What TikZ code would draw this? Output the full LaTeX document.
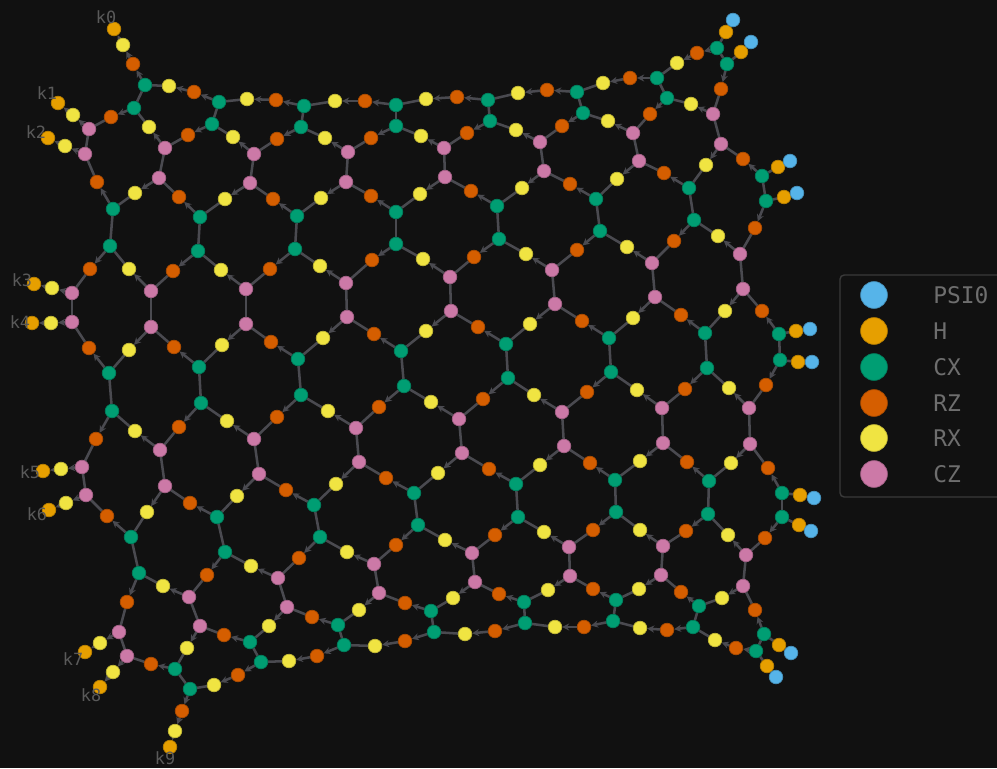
\documentclass[tikz,border=0pt]{standalone}
\usepackage{fontspec}
\setmonofont{DejaVu Sans Mono}
\usepackage{xcolor}
\usepackage{tikz}
\usetikzlibrary{positioning, arrows.meta, calc}
\definecolor{bgcol}{HTML}{111111}
\definecolor{edgecol}{HTML}{4A4A50}
\definecolor{labcol}{HTML}{5A5A5A}
\definecolor{legcol}{HTML}{6E6E6E}
\definecolor{framecol}{HTML}{3A3A3A}
\definecolor{psicol}{HTML}{56B4E9}
\definecolor{hcol}{HTML}{E69F00}
\definecolor{cxcol}{HTML}{009E73}
\definecolor{rzcol}{HTML}{D55E00}
\definecolor{rxcol}{HTML}{F0E442}
\definecolor{czcol}{HTML}{CC79A7}
\pgfdeclarelayer{bglayer}
\pgfdeclarelayer{edgelayer}
\pgfsetlayers{bglayer,edgelayer,main}
\tikzset{
    gate/.style={
        circle,
        fill=#1,
        draw=#1!80!black,
        line width=0.5pt,
        minimum size=0.34cm,
        inner sep=0pt
    },
    psinode/.style={gate=psicol},
    hnode/.style={gate=hcol},
    cxnode/.style={gate=cxcol},
    rznode/.style={gate=rzcol},
    rxnode/.style={gate=rxcol},
    cznode/.style={gate=czcol},
    wire/.style={
        draw=edgecol,
        line width=1.8pt
    },
    flow/.style={
        wire,
        -{Stealth[length=5pt,width=5pt]}
    },
    klabel/.style={
        text=labcol,
        font=\ttfamily\fontsize{12}{14}\selectfont,
        inner sep=0pt
    },
    legenddot/.style={
        gate=#1,
        minimum size=0.67cm
    },
    legendtext/.style={
        text=legcol,
        anchor=west,
        inner sep=0pt,
        font=\ttfamily\fontsize{16.3}{18}\selectfont
    },
    legendframe/.style={
        draw=framecol,
        line width=1pt,
        rounded corners=3pt
    }
}

\begin{document}
\begin{tikzpicture}[x=0.025cm, y=-0.025cm]
    \useasboundingbox (0,0) rectangle (997,768);
    \clip (0,0) rectangle (997,768);
    \begin{pgfonlayer}{bglayer}
        \fill[bgcol] (0,0) rectangle (997,768);
    \end{pgfonlayer}

    % CX gates
    \foreach \n/\x/\y in {
        xa1/145/85, xa2/219/102, xa3/304/106, xa4/396/105, xa5/488/100, xa6/577/92, xa7/657/78, xa8/717/48,
        xb1/134/108, xb2/212/124, xb3/301/127, xb4/396/126, xb5/490/121, xb6/583/113, xb7/667/98, xb8/727/64,
        xe0/113/209, xe1/200/217, xe2/297/216, xe3/396/212, xe4/497/206, xe5/596/199, xe6/689/188, xe7/762/176,
        xf0/110/246, xf1/198/251, xf2/295/249, xf3/396/244, xf4/499/239, xf5/600/231, xf6/694/220, xf7/766/201,
        xi0/109/373, xi1/199/367, xi2/298/359, xi3/401/351, xi4/506/344, xi5/609/338, xi6/705/333, xi7/779/334,
        xj0/112/411, xj1/201/403, xj2/301/395, xj3/404/386, xj4/508/378, xj5/611/372, xj6/707/368, xj7/780/360,
        xm0/131/537, xm1/217/517, xm2/314/505, xm3/414/493, xm4/516/484, xm5/615/480, xm6/709/481, xm7/782/493,
        xn0/139/573, xn1/225/552, xn2/320/537, xn3/418/525, xn4/518/517, xn5/616/512, xn6/708/514, xn7/782/517,
        xq0/175/669, xq1/250/642, xq2/338/625, xq3/431/611, xq4/524/602, xq5/616/600, xq6/699/606, xq7/764/634,
        xr0/190/689, xr1/261/662, xr2/344/645, xr3/434/632, xr4/525/623, xr5/613/621, xr6/693/627, xr7/756/651}
        \node[cxnode] (\n) at (\x,\y) {};

    % CZ gates
    \foreach \n/\x/\y in {
        zc0/89/129, zc1/165/148, zc2/254/154, zc3/348/152, zc4/444/148, zc5/540/142, zc6/633/133, zc7/713/114,
        zd0/85/154, zd1/159/178, zd2/250/183, zd3/346/182, zd4/445/177, zd5/544/171, zd6/639/161, zd7/721/144,
        zg0/72/293, zg1/151/291, zg2/246/289, zg3/346/283, zg4/450/277, zg5/552/270, zg6/652/263, zg7/740/254,
        zh0/72/322, zh1/151/327, zh2/246/324, zh3/347/317, zh4/451/311, zh5/555/304, zh6/655/297, zh7/743/289,
        zk0/82/467, zk1/160/450, zk2/254/439, zk3/356/428, zk4/459/419, zk5/562/412, zk6/662/408, zk7/749/408,
        zl0/86/495, zl1/165/486, zl2/259/474, zl3/359/462, zl4/462/453, zl5/564/446, zl6/663/443, zl7/750/444,
        zo0/119/632, zo1/189/597, zo2/278/578, zo3/374/564, zo4/472/553, zo5/569/547, zo6/663/546, zo7/746/555,
        zp0/127/656, zp1/200/626, zp2/287/607, zp3/379/593, zp4/475/582, zp5/570/576, zp6/661/575, zp7/743/586}
        \node[cznode] (\n) at (\x,\y) {};

    % RZ gates
    \foreach \n/\x/\y in {
        rzAk/133/64, rzA1/194/92, rzA2/276/100, rzA3/365/101, rzA4/457/97, rzA5/547/90, rzA6/630/78, rzA7/697/53,
        rzB1/111/117, rzB2/188/135, rzB3/277/139, rzB4/371/138, rzB5/467/133, rzB6/562/126, rzB7/650/114, rzB8/721/89,
        rzD0/97/182, rzD1/179/197, rzD2/273/199, rzD3/371/196, rzD4/471/191, rzD5/570/184, rzD6/664/173, rzD7/743/159,
        rzF0/90/269, rzF1/173/271, rzF2/270/269, rzF3/372/260, rzF4/474/257, rzF5/577/250, rzF6/674/241, rzF7/755/228,
        rzH0/89/348, rzH1/174/347, rzH2/271/342, rzH3/374/334, rzH4/478/327, rzH5/582/321, rzH6/681/315, rzH7/762/311,
        rzJ0/96/439, rzJ1/179/427, rzJ2/277/417, rzJ3/379/407, rzJ4/483/399, rzJ5/587/392, rzJ6/685/389, rzJ7/766/385,
        rzL0/107/516, rzL1/190/503, rzL2/286/490, rzL3/386/478, rzL4/489/469, rzL5/590/463, rzL6/687/462, rzL7/768/468,
        rzN0/127/602, rzN1/207/575, rzN2/299/558, rzN3/396/545, rzN4/495/535, rzN5/593/530, rzN6/686/531, rzN7/765/538,
        rzP0/151/664, rzP1/224/635, rzP2/312/617, rzP3/405/603, rzP4/499/594, rzP5/593/589, rzP6/681/592, rzP7/755/610,
        rzRk/182/711, rzR0/238/675, rzR1/317/656, rzR2/405/641, rzR3/495/631, rzR4/584/627, rzR5/667/630, rzR6/736/648}
        \node[rznode] (\n) at (\x,\y) {};

    % RX gates
    \foreach \n/\x/\y in {
        rxAk/123/45, rxA1/169/86, rxA2/247/99, rxA3/335/101, rxA4/426/99, rxA5/518/93, rxA6/603/83, rxA7/677/63,
        rxC0/73/115, rxB1/149/127, rxB2/233/137, rxB3/325/138, rxB4/421/136, rxB5/516/130, rxB6/608/121, rxB7/691/104,
        rxD0/65/146, rxD1/135/193, rxD2/225/199, rxD3/321/198, rxD4/420/194, rxD5/522/188, rxD6/617/179, rxD7/706/165,
        rxG0/52/288, rxF0/129/269, rxF1/221/270, rxF2/320/266, rxF3/423/259, rxF4/526/254, rxF5/627/247, rxF6/718/236,
        rxH0/51/323, rxH1/129/350, rxH2/222/345, rxH3/323/338, rxH4/426/331, rxH5/530/324, rxH6/633/318, rxH7/725/311,
        rxK0/61/469, rxJ0/135/431, rxJ1/227/421, rxJ2/328/411, rxJ3/431/402, rxJ4/534/395, rxJ5/637/390, rxJ6/729/388,
        rxL0/66/503, rxL1/147/512, rxL2/237/496, rxL3/336/484, rxL4/438/473, rxL5/540/465, rxL6/640/461, rxL7/731/463,
        rxO0/100/643, rxN0/163/586, rxN1/251/566, rxN2/347/552, rxN3/445/540, rxN4/544/532, rxN5/640/530, rxN6/728/535,
        rxP0/113/672, rxP1/187/648, rxP2/269/626, rxP3/359/610, rxP4/453/598, rxP5/548/590, rxP6/639/589, rxP7/722/598,
        rxRk/175/731, rxR0/214/685, rxR1/289/661, rxR2/375/646, rxR3/465/634, rxR4/555/627, rxR5/640/628, rxR6/715/640}
        \node[rxnode] (\n) at (\x,\y) {};

    % H gates and inputs
    \foreach \n/\x/\y in {
        hk0/114/29, hk1/58/103, hk2/48/138, hk3/34/284, hk4/32/323, hk5/43/471, hk6/49/510, hk7/85/652, hk8/100/687, hk9/170/747,
        hr1/726/32, hr2/741/52, hr3/778/167, hr4/784/197, hr5/796/331, hr6/798/362, hr7/800/495, hr8/799/525, hr9/779/645, hr10/767/666}
        \node[hnode] (\n) at (\x,\y) {};
    \foreach \n/\x/\y in {
        ps1/733/20, ps2/751/42, ps3/790/161, ps4/797/193, ps5/810/329, ps6/812/362, ps7/814/498, ps8/811/531, ps9/791/653, ps10/776/677}
        \node[psinode] (\n) at (\x,\y) {};

    % output labels
    \foreach \n/\x/\y/\t in {lk0/106/17/k0, lk1/47/93/k1, lk2/36/132/k2, lk3/22/280/k3, lk4/20/322/k4,
        lk5/30/472/k5, lk6/37/514/k6, lk7/73/659/k7, lk8/91/695/k8, lk9/165/758/k9}
        \node[klabel] (\n) at (\x,\y) {\t};

    \begin{pgfonlayer}{edgelayer}
        % paired two-qubit gates
        \foreach \i in {1,...,8}
            \draw[wire] (xa\i) -- (xb\i);
        \foreach \i in {0,...,7} {
            \draw[wire] (xe\i) -- (xf\i);
            \draw[wire] (xi\i) -- (xj\i);
            \draw[wire] (xm\i) -- (xn\i);
            \draw[wire] (xq\i) -- (xr\i);
            \draw[wire] (zc\i) -- (zd\i);
            \draw[wire] (zg\i) -- (zh\i);
            \draw[wire] (zk\i) -- (zl\i);
            \draw[wire] (zo\i) -- (zp\i);
        }
        % top and bottom rims
        \foreach \i [evaluate=\i as \j using int(\i+1)] in {1,...,7} {
            \draw[flow] (xa\j) -- (rzA\i);
            \draw[flow] (rzA\i) -- (rxA\i);
            \draw[wire] (rxA\i) -- (xa\i);
        }
        \foreach \i [evaluate=\i as \j using int(\i+1)] in {0,...,6} {
            \draw[flow] (xr\j) -- (rzR\i);
            \draw[flow] (rzR\i) -- (rxR\i);
            \draw[wire] (rxR\i) -- (xr\i);
        }
        % rows CX -> CZ going down-left / down-right
        \foreach \xr/\zr/\rr in {xb/zc/B} {
            \foreach \i [evaluate=\i as \k using int(\i-1)] in {1,...,8} {
                \draw[flow] (\xr\i) -- (rz\rr\i);
                \draw[wire] (rz\rr\i) -- (\zr\k);
            }
            \foreach \i in {1,...,7} {
                \draw[flow] (\zr\i) -- (rx\rr\i);
                \draw[wire] (rx\rr\i) -- (\xr\i);
            }
        }
        \foreach \xr/\zr/\rr in {xf/zg/F, xj/zk/J, xn/zo/N} {
            \foreach \i in {0,...,7} {
                \draw[flow] (\xr\i) -- (rz\rr\i);
                \draw[wire] (rz\rr\i) -- (\zr\i);
            }
            \foreach \i [evaluate=\i as \j using int(\i+1)] in {0,...,6} {
                \draw[flow] (\zr\j) -- (rx\rr\i);
                \draw[wire] (rx\rr\i) -- (\xr\i);
            }
        }
        % rows CZ -> CX
        \foreach \zr/\xr/\rr in {zd/xe/D, zh/xi/H, zl/xm/L, zp/xq/P} {
            \foreach \i in {0,...,7} {
                \draw[flow] (\xr\i) -- (rz\rr\i);
                \draw[wire] (rz\rr\i) -- (\zr\i);
            }
            \foreach \i [evaluate=\i as \k using int(\i-1)] in {1,...,7} {
                \draw[flow] (\zr\i) -- (rx\rr\i);
                \draw[wire] (rx\rr\i) -- (\xr\k);
            }
        }
        % outputs on the left
        \draw[flow] (xa1) -- (rzAk);
        \draw[flow] (rzAk) -- (rxAk);
        \draw[flow] (rxAk) -- (hk0);
        \draw[flow] (xr0) -- (rzRk);
        \draw[flow] (rzRk) -- (rxRk);
        \draw[flow] (rxRk) -- (hk9);
        \foreach \z/\r/\h in {zc0/rxC0/hk1, zd0/rxD0/hk2, zg0/rxG0/hk3, zh0/rxH0/hk4,
            zk0/rxK0/hk5, zl0/rxL0/hk6, zo0/rxO0/hk7, zp0/rxP0/hk8} {
            \draw[flow] (\z) -- (\r);
            \draw[flow] (\r) -- (\h);
        }
        % inputs on the right
        \foreach \i/\x in {1/xa8, 2/xb8, 3/xe7, 4/xf7, 5/xi7, 6/xj7, 7/xm7, 8/xn7, 9/xq7, 10/xr7} {
            \draw[flow] (ps\i) -- (hr\i);
            \draw[wire] (hr\i) -- (\x);
        }
    \end{pgfonlayer}

    % legend
    \draw[legendframe, fill=bgcol] (840,275) rectangle (1012,497);
    \foreach \n/\c/\t/\y in {lgpsi/psicol/PSI0/295, lgh/hcol/H/331, lgcx/cxcol/CX/367,
        lgrz/rzcol/RZ/403, lgrx/rxcol/RX/438, lgcz/czcol/CZ/474} {
        \node[legenddot=\c] (\n) at (874,\y) {};
        \node[legendtext] (\n txt) at (933,\y) {\t};
    }
\end{tikzpicture}
\end{document}
